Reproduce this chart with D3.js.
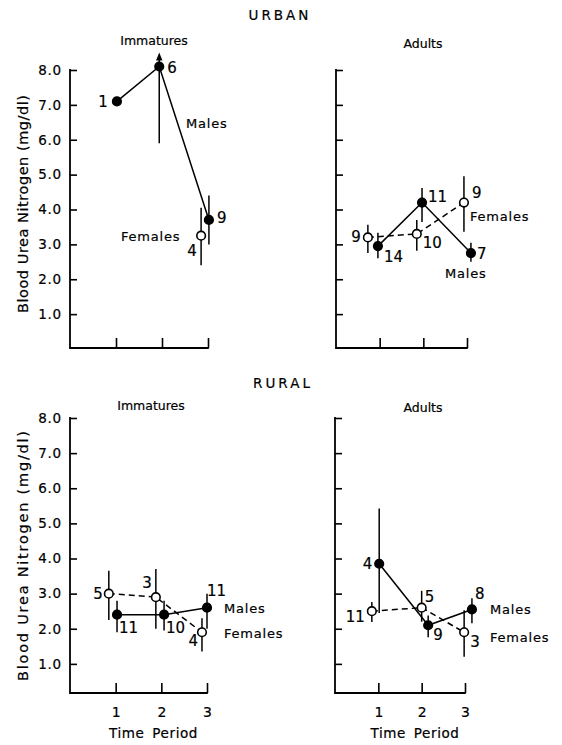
<!DOCTYPE html>
<html>
<head>
<meta charset="utf-8">
<script src="https://cdn.jsdelivr.net/npm/d3@7"></script>
<style>
  html, body { margin: 0; padding: 0; background: #fff; }
  svg { display: block; }
  text { font-family: "DejaVu Sans", sans-serif; fill: #000; stroke: #000; stroke-width: 0.2px; }
</style>
</head>
<body>
<div id="chart"></div>
<script>
// ---------------- DATA ----------------
const timePeriods = [1, 2, 3];
const timeLabels = ["1", "2", "3"];
const yTickValues = [1, 2, 3, 4, 5, 6, 7, 8];
const yTickLabels = ["1.0", "2.0", "3.0", "4.0", "5.0", "6.0", "7.0", "8.0"];
const groupTitles = ["URBAN", "RURAL"];
const panelTitles = ["Immatures", "Adults"];
const seriesNames = ["Males", "Females"];
const yAxisTitle = "Blood Urea Nitrogen (mg/dl)";
const xAxisTitle = "Time Period";

// Urban – Immatures
const urbanImmMalesMean = [7.1, 8.1, 3.7];
const urbanImmMalesHi   = [null, 10.3, 4.4];
const urbanImmMalesLo   = [null, 5.9, 3.0];
const urbanImmMalesN    = [1, 6, 9];
const urbanImmFemalesMean = [null, null, 3.25];
const urbanImmFemalesHi   = [null, null, 4.05];
const urbanImmFemalesLo   = [null, null, 2.4];
const urbanImmFemalesN    = [null, null, 4];

// Urban – Adults
const urbanAdMalesMean = [2.95, 4.2, 2.75];
const urbanAdMalesHi   = [3.33, 4.62, 3.05];
const urbanAdMalesLo   = [2.6, 3.64, 2.5];
const urbanAdMalesN    = [14, 11, 7];
const urbanAdFemalesMean = [3.2, 3.3, 4.2];
const urbanAdFemalesHi   = [3.56, 3.7, 4.95];
const urbanAdFemalesLo   = [2.75, 2.82, 3.36];
const urbanAdFemalesN    = [9, 10, 9];

// Rural – Immatures
const ruralImmMalesMean = [2.4, 2.4, 2.6];
const ruralImmMalesHi   = [2.8, 2.8, 3.0];
const ruralImmMalesLo   = [1.9, 1.95, 2.0];
const ruralImmMalesN    = [11, 10, 11];
const ruralImmFemalesMean = [3.0, 2.9, 1.9];
const ruralImmFemalesHi   = [3.65, 3.7, 2.3];
const ruralImmFemalesLo   = [2.25, 2.0, 1.35];
const ruralImmFemalesN    = [5, 3, 4];

// Rural – Adults
const ruralAdMalesMean = [3.85, 2.1, 2.55];
const ruralAdMalesHi   = [5.42, 2.38, 2.87];
const ruralAdMalesLo   = [2.45, 1.76, 2.16];
const ruralAdMalesN    = [4, 9, 8];
const ruralAdFemalesMean = [2.5, 2.6, 1.9];
const ruralAdFemalesHi   = [2.76, 3.08, 2.53];
const ruralAdFemalesLo   = [2.19, 2.2, 1.2];
const ruralAdFemalesN    = [11, 5, 3];

// ---------------- LAYOUT ----------------
const W = 562, H = 745;
const svg = d3.select("#chart").append("svg").attr("width", W).attr("height", H);

function series(mean, hi, lo, n) {
  return timePeriods.map((t, i) => ({ t, i, mean: mean[i], hi: hi[i], lo: lo[i], n: n[i] }))
                    .filter(d => d.mean != null);
}

const panels = [
  { title: panelTitles[0], x0: 70, x1: 208, y0val: 349, y8: 70, axisY: 348, titleX: 154, titleY: 45, leftLabels: true, bottomLabels: false,
    yLabCy: 204, yLabLen: 218,
    males: series(urbanImmMalesMean, urbanImmMalesHi, urbanImmMalesLo, urbanImmMalesN),
    females: series(urbanImmFemalesMean, urbanImmFemalesHi, urbanImmFemalesLo, urbanImmFemalesN),
    mJit: [0.02, -0.06, 0.02], fJit: [0, 0, -0.15], clipTop: 8.5,
    mLab: [[-9, 6, "end"], [8, 6, "start"], [8, 3, "start"]],
    fLab: [null, null, [-9, 20, "middle"]],
    maleName: [186, 128, "start"], femaleName: [121, 241, "start"] },
  { title: panelTitles[1], x0: 336, x1: 467, y0val: 349, y8: 70, axisY: 348, titleX: 423, titleY: 48, leftLabels: false, bottomLabels: false,
    males: series(urbanAdMalesMean, urbanAdMalesHi, urbanAdMalesLo, urbanAdMalesN),
    females: series(urbanAdFemalesMean, urbanAdFemalesHi, urbanAdFemalesLo, urbanAdFemalesN),
    mJit: [-0.04, -0.03, 0.09], fJit: [-0.27, -0.15, -0.07],
    mLab: [[6, 16, "start"], [6, -1, "start"], [6, 6, "start"]],
    fLab: [[-7, 5, "end"], [6, 14, "start"], [8, -5, "start"]],
    maleName: [445, 278, "start"], femaleName: [470, 221, "start"] },
  { title: panelTitles[0], x0: 70, x1: 207, y0val: 699, y8: 418, axisY: 693, titleX: 151, titleY: 410, leftLabels: true, bottomLabels: true,
    yLabCy: 556, yLabLen: 250,
    males: series(ruralImmMalesMean, ruralImmMalesHi, ruralImmMalesLo, ruralImmMalesN),
    females: series(ruralImmFemalesMean, ruralImmFemalesHi, ruralImmFemalesLo, ruralImmFemalesN),
    mJit: [0.03, 0.06, 0.0], fJit: [-0.15, -0.12, -0.11],
    mLab: [[2, 18, "start"], [2, 18, "start"], [0, -12, "start"]],
    fLab: [[-6, 5, "end"], [-4, -9, "end"], [-4, 14, "end"]],
    maleName: [224, 613, "start"], femaleName: [224, 638, "start"] },
  { title: panelTitles[1], x0: 335, x1: 465, y0val: 699, y8: 418, axisY: 693, titleX: 423, titleY: 412, leftLabels: false, bottomLabels: true,
    males: series(ruralAdMalesMean, ruralAdMalesHi, ruralAdMalesLo, ruralAdMalesN),
    females: series(ruralAdFemalesMean, ruralAdFemalesHi, ruralAdFemalesLo, ruralAdFemalesN),
    mJit: [0.02, 0.15, 0.16], fJit: [-0.15, 0.0, -0.02],
    mLab: [[-7, 5, "end"], [5, 15, "start"], [3, -10, "start"]],
    fLab: [[-7, 11, "end"], [3, -6, "start"], [6, 15, "start"]],
    maleName: [490, 614, "start"], femaleName: [490, 642, "start"] }
];

// group titles
svg.append("text").attr("x", 280).attr("y", 20).attr("text-anchor", "middle")
  .style("font-size", "13.5px").style("letter-spacing", "3px").text(groupTitles[0]);
svg.append("text").attr("x", 283).attr("y", 388).attr("text-anchor", "middle")
  .style("font-size", "13.5px").style("letter-spacing", "3px").text(groupTitles[1]);

panels.forEach(p => {
  const g = svg.append("g");
  const x = d3.scaleLinear().domain([0, 3]).range([p.x0, p.x1]);
  const y = d3.scaleLinear().domain([0, 8]).range([p.y0val, p.y8]);

  g.append("text").attr("x", p.titleX).attr("y", p.titleY).attr("text-anchor", "middle")
    .style("font-size", "12.5px").text(p.title);

  // y axis
  const ya = d3.axisLeft(y).tickValues(yTickValues).tickSize(-7).tickSizeOuter(0).tickPadding(8)
    .tickFormat((d, i) => p.leftLabels ? yTickLabels[i] : "");
  const yg = g.append("g").attr("transform", `translate(${p.x0},0)`).call(ya);
  yg.select(".domain").remove();
  yg.selectAll(".tick line").attr("stroke", "#000").attr("stroke-width", 1.6);
  yg.selectAll(".tick text").style("font-size", "13.5px").style("letter-spacing", "0.8px")
    .style("font-family", "DejaVu Sans, sans-serif").attr("fill", "#000");
  g.append("line").attr("x1", p.x0).attr("x2", p.x0).attr("y1", y(8) - 1).attr("y2", p.axisY)
    .attr("stroke", "#000").attr("stroke-width", 1.8);

  // x axis
  const xa = d3.axisBottom(x).tickValues(timePeriods).tickSize(-10).tickSizeOuter(0).tickPadding(14)
    .tickFormat((d, i) => p.bottomLabels ? timeLabels[i] : "");
  const xg = g.append("g").attr("transform", `translate(0,${p.axisY})`).call(xa);
  xg.select(".domain").remove();
  xg.selectAll(".tick line").attr("stroke", "#000").attr("stroke-width", 1.6);
  xg.selectAll(".tick text").style("font-size", "14px").style("font-family", "DejaVu Sans, sans-serif").attr("fill", "#000");
  g.append("line").attr("x1", p.x0 - 0.9).attr("x2", p.x1 + 0.8).attr("y1", p.axisY).attr("y2", p.axisY)
    .attr("stroke", "#000").attr("stroke-width", 1.8);

  if (p.leftLabels) {
    g.append("text").attr("transform", `translate(28,${p.yLabCy}) rotate(-90)`).attr("text-anchor", "middle")
      .attr("textLength", p.yLabLen).attr("lengthAdjust", "spacing")
      .style("font-size", "14.5px").text(yAxisTitle);
  }
  if (p.bottomLabels) {
    g.append("text").attr("x", (p.x0 + p.x1) / 2 + 15).attr("y", 738).attr("text-anchor", "middle")
      .style("font-size", "13.5px").style("letter-spacing", "0.6px").style("word-spacing", "3px").text(xAxisTitle);
  }

  const cap = v => (p.clipTop != null ? Math.min(v, p.clipTop) : v);

  function drawSeries(data, jit, filled, labs) {
    const px = d => x(d.t + jit[d.i]);
    const line = d3.line().x(px).y(d => y(d.mean));
    g.append("path").datum(data).attr("d", line).attr("fill", "none").attr("stroke", "#000")
      .attr("stroke-width", 1.5).attr("stroke-dasharray", filled ? null : "6,4");
    data.filter(d => d.hi != null).forEach(d => {
      const over = p.clipTop != null && d.hi > p.clipTop;
      const top = y(cap(d.hi));
      g.append("line").attr("x1", px(d)).attr("x2", px(d))
        .attr("y1", over ? top + 6 : top).attr("y2", y(d.lo))
        .attr("stroke", "#000").attr("stroke-width", 1.5);
      if (over) {
        const cx = px(d);
        g.append("path").attr("d", `M${cx},${top} L${cx - 3.2},${top + 8} L${cx + 3.2},${top + 8} Z`)
          .attr("fill", "#000");
      }
    });
    g.selectAll(null).data(data).enter().append("circle")
      .attr("cx", px).attr("cy", d => y(d.mean)).attr("r", 4.3)
      .attr("fill", filled ? "#000" : "#fff").attr("stroke", "#000").attr("stroke-width", 1.6);
    data.forEach(d => {
      const l = labs[d.i];
      if (!l) return;
      g.append("text").attr("x", px(d) + l[0]).attr("y", y(d.mean) + l[1]).attr("text-anchor", l[2])
        .style("font-size", "15px").text(d.n);
    });
  }
  drawSeries(p.females, p.fJit, false, p.fLab);
  drawSeries(p.males, p.mJit, true, p.mLab);

  g.append("text").attr("x", p.maleName[0]).attr("y", p.maleName[1]).attr("text-anchor", p.maleName[2])
    .style("font-size", "13px").style("letter-spacing", "0.8px").text(seriesNames[0]);
  g.append("text").attr("x", p.femaleName[0]).attr("y", p.femaleName[1]).attr("text-anchor", p.femaleName[2])
    .style("font-size", "13px").style("letter-spacing", "0.8px").text(seriesNames[1]);
});
</script>
</body>
</html>
